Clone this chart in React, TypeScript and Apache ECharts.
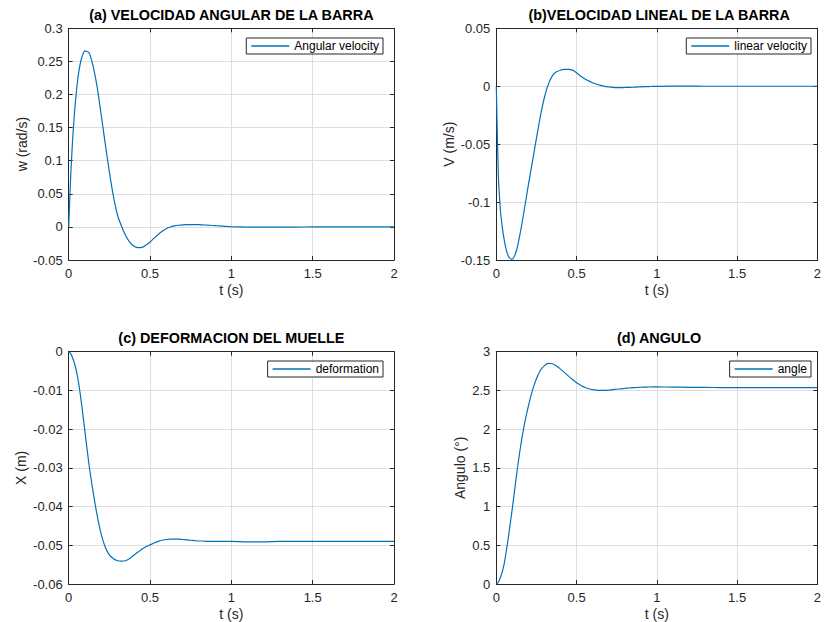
import React, { useEffect, useRef } from "react";
import * as echarts from "echarts";

// time samples (s)
const tFine = [0, 0.0125, 0.025, 0.0375, 0.05, 0.0625, 0.075, 0.0875, 0.1, 0.125, 0.15, 0.175, 0.2, 0.225, 0.25, 0.275, 0.3, 0.325, 0.35, 0.375, 0.4, 0.425, 0.45, 0.475, 0.5, 0.525, 0.55, 0.575, 0.6, 0.625, 0.65, 0.675, 0.7, 0.725, 0.75, 0.775, 0.8, 0.825, 0.85, 0.875, 0.9, 0.925, 0.95, 0.975, 1.0, 1.1, 1.2, 1.3, 1.4, 1.5, 1.6, 1.7, 1.8, 1.9, 2.0];

// (a) angular velocity (rad/s)
const wA = [0, 0.078, 0.135, 0.178, 0.211, 0.235, 0.251, 0.261, 0.266, 0.263, 0.243, 0.211, 0.169, 0.125, 0.083, 0.046, 0.018, 0.001, -0.013, -0.023, -0.029, -0.0313, -0.031, -0.0275, -0.0228, -0.017, -0.0115, -0.0066, -0.0027, -0.0002, 0.0015, 0.0025, 0.0031, 0.0034, 0.0035, 0.0035, 0.0033, 0.003, 0.0027, 0.0023, 0.0019, 0.0015, 0.0011, 0.0007, 0.0004, -0.0002, -0.0004, -0.0003, -0.0002, -0.0001, 0, 0, 0, 0, 0];

// (b) linear velocity (m/s)
const vB = [0, -0.076, -0.106, -0.122, -0.133, -0.1415, -0.1465, -0.1488, -0.1492, -0.142, -0.126, -0.106, -0.085, -0.065, -0.045, -0.0255, -0.0095, 0.002, 0.0092, 0.0124, 0.0138, 0.0145, 0.0146, 0.0139, 0.0117, 0.0089, 0.0065, 0.0046, 0.003, 0.0017, 0.0007, -0.0001, -0.0006, -0.001, -0.0012, -0.0012, -0.0011, -0.001, -0.0009, -0.0007, -0.0005, -0.0004, -0.0003, -0.0002, -0.0001, 0.0001, 0.0001, 0, 0, 0, 0, 0, 0, 0, 0];

// (c) spring deformation (m)
const xC = [0, -0.0005, -0.0017, -0.0033, -0.0055, -0.0085, -0.0122, -0.0163, -0.0207, -0.0292, -0.0362, -0.0423, -0.0472, -0.0505, -0.0525, -0.0535, -0.054, -0.0541, -0.054, -0.0534, -0.0526, -0.0518, -0.051, -0.0504, -0.0499, -0.0494, -0.049, -0.0487, -0.0485, -0.0484, -0.0484, -0.0484, -0.0485, -0.0486, -0.0487, -0.0488, -0.0489, -0.0489, -0.049, -0.049, -0.049, -0.049, -0.049, -0.049, -0.049, -0.0491, -0.0491, -0.049, -0.049, -0.049, -0.049, -0.049, -0.049, -0.049, -0.049];

// (d) angle (deg)
const aD = [0, 0.02, 0.08, 0.16, 0.27, 0.43, 0.6, 0.79, 0.98, 1.39, 1.76, 2.06, 2.3, 2.5, 2.65, 2.76, 2.82, 2.85, 2.845, 2.815, 2.775, 2.73, 2.685, 2.64, 2.6, 2.568, 2.54, 2.522, 2.51, 2.504, 2.501, 2.501, 2.504, 2.51, 2.515, 2.521, 2.526, 2.531, 2.535, 2.538, 2.541, 2.543, 2.544, 2.545, 2.545, 2.543, 2.54, 2.538, 2.537, 2.536, 2.536, 2.536, 2.536, 2.536, 2.536];

const titles = ["(a) VELOCIDAD ANGULAR DE LA BARRA", "(b)VELOCIDAD LINEAL DE LA BARRA", "(c) DEFORMACION DEL MUELLE", "(d) ANGULO"];
const seriesNames = ["Angular velocity", "linear velocity", "deformation", "angle"];
const yNames = ["w (rad/s)", "V (m/s)", "X (m)", "Angulo (°)"];
const xName = "t (s)";
const yRanges = [
  { min: -0.05, max: 0.3, interval: 0.05 },
  { min: -0.15, max: 0.05, interval: 0.05 },
  { min: -0.06, max: 0, interval: 0.01 },
  { min: 0, max: 3, interval: 0.5 },
];
const xRange = { min: 0, max: 2, interval: 0.5 };

const zip = (t: number[], v: number[]) => t.map((x, i) => [x, v[i]]);
const seriesData = [zip(tFine, wA), zip(tFine, vB), zip(tFine, xC), zip(tFine, aD)];

const FONT = "'Liberation Sans', Arial, Helvetica, sans-serif";
const AX = "#262626";
const GRIDC = "#dedede";
const LINE = "#0072BD";

// layout
const grids = [
  { left: 68.7, top: 28.3, width: 325.3, height: 231.7 },
  { left: 496.3, top: 28.3, width: 325.7, height: 231.7 },
  { left: 68.7, top: 351.7, width: 325.3, height: 232.6 },
  { left: 496.3, top: 351.7, width: 325.7, height: 232.6 },
];
const yNameGaps = [39, 40, 41, 29];
const legendBoxes = [
  { right: 441, top: 38 },
  { right: 13, top: 38 },
  { right: 441, top: 361 },
  { right: 13, top: 361 },
];

export default function App() {
  const ref = useRef<HTMLDivElement>(null);
  useEffect(() => {
    if (!ref.current) return;
    const chart = echarts.init(ref.current, undefined, { renderer: "svg" });
    const xAxes: any[] = [];
    const yAxes: any[] = [];
    for (let i = 0; i < 4; i++) {
      xAxes.push({
        type: "value",
        gridIndex: i,
        position: "bottom",
        ...xRange,
        name: xName,
        nameLocation: "middle",
        nameGap: 23,
        nameTextStyle: { color: AX, fontSize: 14, fontFamily: FONT },
        axisLine: { show: true, onZero: false, lineStyle: { color: AX, width: 1 } },
        axisTick: { show: true, inside: true, length: 4, lineStyle: { color: AX } },
        axisLabel: { color: AX, fontSize: 13, fontFamily: FONT, margin: 7 },
        splitLine: { show: true, lineStyle: { color: GRIDC, width: 1 } },
      });
      yAxes.push({
        type: "value",
        gridIndex: i,
        position: "left",
        ...yRanges[i],
        name: yNames[i],
        nameLocation: "middle",
        nameGap: yNameGaps[i],
        nameTextStyle: { color: AX, fontSize: 14, fontFamily: FONT },
        axisLine: { show: true, onZero: false, lineStyle: { color: AX, width: 1 } },
        axisTick: { show: true, inside: true, length: 4, lineStyle: { color: AX } },
        axisLabel: { color: AX, fontSize: 13, fontFamily: FONT, margin: 6 },
        splitLine: { show: true, lineStyle: { color: GRIDC, width: 1 } },
      });
    }
    for (let i = 0; i < 4; i++) {
      xAxes.push({
        type: "value",
        gridIndex: i,
        position: "top",
        ...xRange,
        axisLine: { show: true, onZero: false, lineStyle: { color: AX, width: 1 } },
        axisTick: { show: true, inside: true, length: 4, lineStyle: { color: AX } },
        axisLabel: { show: false },
        splitLine: { show: false },
      });
      yAxes.push({
        type: "value",
        gridIndex: i,
        position: "right",
        ...yRanges[i],
        axisLine: { show: true, onZero: false, lineStyle: { color: AX, width: 1 } },
        axisTick: { show: true, inside: true, length: 4, lineStyle: { color: AX } },
        axisLabel: { show: false },
        splitLine: { show: false },
      });
    }
    const option: any = {
      animation: false,
      backgroundColor: "#ffffff",
      title: titles.map((t, i) => ({
        text: t,
        left: grids[i].left + grids[i].width / 2,
        top: i < 2 ? 8 : 331,
        textAlign: "center",
        padding: 0,
        textStyle: { color: "#000", fontSize: 14.4, fontWeight: "bold", fontFamily: FONT },
      })),
      grid: grids,
      xAxis: xAxes,
      yAxis: yAxes,
      legend: seriesNames.map((n, i) => ({
        data: [n],
        right: legendBoxes[i].right,
        top: legendBoxes[i].top,
        orient: "vertical",
        icon: "rect",
        backgroundColor: "#ffffff",
        borderColor: AX,
        borderWidth: 1,
        borderRadius: 0,
        padding: [2, 4, 2, 5],
        itemWidth: 38,
        itemHeight: 1.3,
        selectedMode: false,
        textStyle: { color: "#000", fontSize: 12, fontFamily: FONT },
      })),
      series: seriesNames.map((n, i) => ({
        type: "line",
        name: n,
        xAxisIndex: i,
        yAxisIndex: i,
        data: seriesData[i],
        symbol: "none",
        smooth: 0.25,
        lineStyle: { color: LINE, width: 1.2 },
        itemStyle: { color: LINE },
      })),
    };
    chart.setOption(option);
    return () => chart.dispose();
  }, []);
  return <div ref={ref} style={{ width: 824, height: 622, position: "absolute", left: 0, top: 0 }} />;
}
